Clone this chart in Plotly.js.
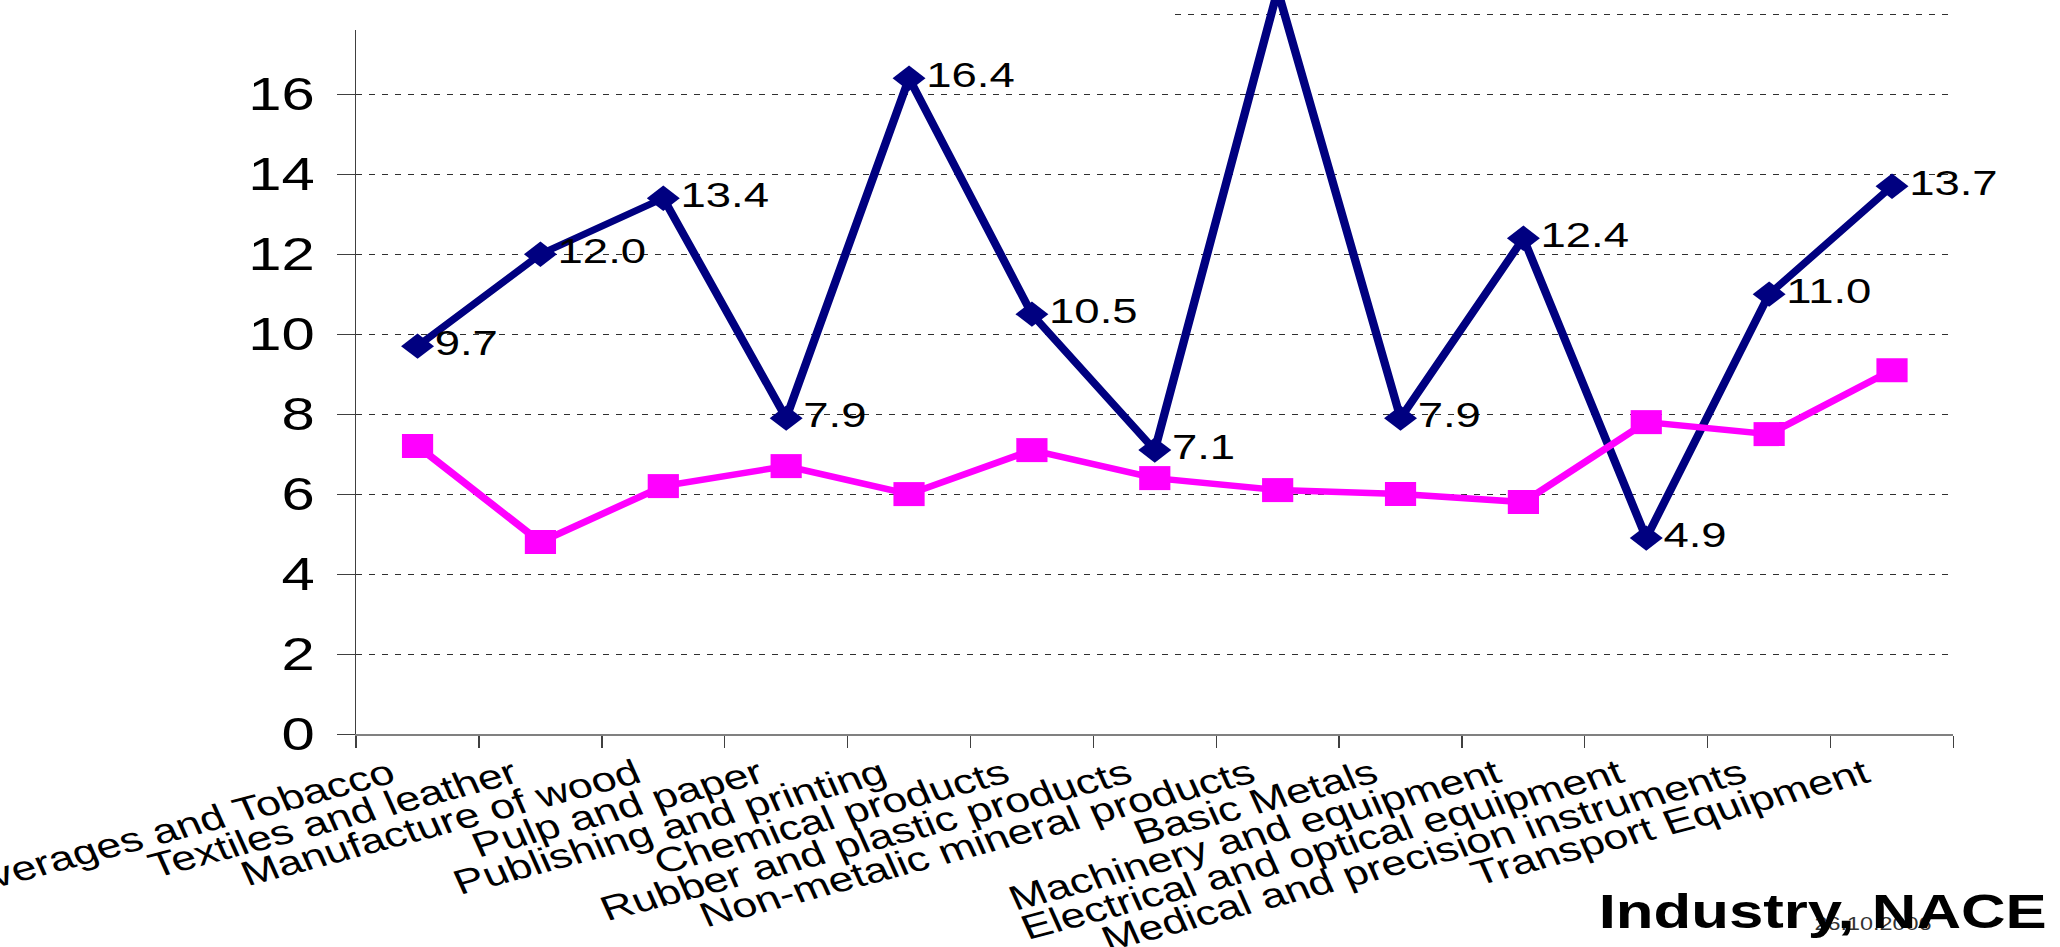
<!DOCTYPE html>
<html>
<head>
<meta charset="utf-8">
<script src="https://cdn.plot.ly/plotly-3.0.1.min.js"></script>
<style>
  html, body { margin: 0; padding: 0; background: #ffffff; overflow: hidden; }
  #wrap { width: 2060px; height: 947px; overflow: hidden; position: relative; }
  #chart { width: 1585px; height: 947px; transform: scaleX(1.2997); transform-origin: 0 0; }
</style>
</head>
<body>
<div id="wrap"><div id="chart"></div></div>
<script>
// ---- data ----
const categories = [
  "Food, Beverages and Tobacco",
  "Textiles and leather",
  "Manufacture of wood",
  "Pulp and paper",
  "Publishing and printing",
  "Chemical products",
  "Rubber and plastic products",
  "Non-metalic mineral products",
  "Basic Metals",
  "Machinery and equipment",
  "Electrical and optical equipment",
  "Medical and precision instruments",
  "Transport Equipment"
];
const seriesBlue = [9.7, 12.0, 13.4, 7.9, 16.4, 10.5, 7.1, 18.6, 7.9, 12.4, 4.9, 11.0, 13.7];
const seriesPink = [7.2, 4.8, 6.2, 6.7, 6.0, 7.1, 6.4, 6.1, 6.0, 5.8, 7.8, 7.5, 9.1];
const yTickValues = [0, 2, 4, 6, 8, 10, 12, 14, 16, 18];
const axisTitleText = "Industry, NACE";
const dateText = "26.10.2006";

const FONT = "Liberation Sans, Arial, Helvetica, sans-serif";

const plotL = 273.7, plotR = 1503.5, plotBottom = 734.3;
const plotW = plotR - plotL;
const yMax = plotBottom / 40;

const traces = [
  {
    type: "scatter",
    mode: "lines+markers+text",
    x: categories,
    y: seriesBlue,
    // a label whose point lies above the visible axis range is off the picture, as in the reference
    text: seriesBlue.map(v => (v <= yMax ? v.toFixed(1) : "")),
    textposition: "middle right",
    textfont: { family: FONT, size: 35, color: "#000000" },
    line: { color: "#000080", width: 6.5 },
    marker: { symbol: "diamond", size: 19.5, color: "#000080" },
    cliponaxis: false,
    hoverinfo: "x+y"
  },
  {
    type: "scatter",
    mode: "lines+markers",
    x: categories,
    y: seriesPink,
    line: { color: "#FF00FF", width: 6.5 },
    marker: { symbol: "square", size: 24, color: "#FF00FF" },
    hoverinfo: "x+y"
  }
];

const layout = {
  width: 1585,
  height: 947,
  margin: { l: plotL, r: 1585 - plotR, t: 0, b: 947 - plotBottom, pad: 0 },
  paper_bgcolor: "#ffffff",
  plot_bgcolor: "#ffffff",
  showlegend: false,
  font: { family: FONT, color: "#000000" },
  xaxis: {
    type: "category",
    categoryorder: "array",
    categoryarray: categories,
    range: [-0.5, categories.length - 0.5],
    tickangle: -19,
    tickfont: { family: FONT, size: 34.5, color: "#000000" },
    ticklabelshift: -21,
    ticklabelstandoff: 5,
    ticks: "outside",
    tickson: "boundaries",
    ticklen: 12,
    tickwidth: 1,
    tickcolor: "#404040",
    showline: true,
    linecolor: "#808080",
    linewidth: 2,
    showgrid: false,
    zeroline: false,
    automargin: false,
    fixedrange: true
  },
  yaxis: {
    range: [0, yMax],
    tickmode: "array",
    tickvals: yTickValues,
    ticktext: yTickValues.map(String),
    tickfont: { family: FONT, size: 46, color: "#000000" },
    ticklabelstandoff: 8,
    ticks: "outside",
    ticklen: 13.7,
    tickwidth: 1,
    tickcolor: "#404040",
    showline: true,
    linecolor: "#404040",
    linewidth: 1,
    showgrid: true,
    gridcolor: "#303030",
    gridwidth: 1,
    griddash: "4.6px,5.4px",
    zeroline: false,
    automargin: false,
    fixedrange: true
  },
  shapes: [
    {
      type: "rect", xref: "paper", yref: "paper", layer: "above",
      x0: -0.3, x1: (900 - plotL) / plotW,
      y0: (plotBottom - 30) / plotBottom, y1: 1.05,
      fillcolor: "#ffffff", line: { width: 0 }
    }
  ],
  annotations: [
    {
      text: dateText, xref: "paper", yref: "paper",
      x: (1394.6 - plotL) / plotW, y: (plotBottom - 924) / plotBottom,
      xanchor: "left", yanchor: "middle", showarrow: false,
      font: { family: FONT, size: 18, color: "#333333" }
    },
    {
      text: "<b>" + axisTitleText + "</b>", xref: "paper", yref: "paper",
      x: (1578 - plotL) / plotW, y: (plotBottom - 911.7) / plotBottom,
      xanchor: "right", yanchor: "middle", showarrow: false,
      font: { family: FONT, size: 47.5, color: "#000000" }
    }
  ]
};

Plotly.newPlot("chart", traces, layout, { displayModeBar: false, staticPlot: true });
</script>
</body>
</html>
